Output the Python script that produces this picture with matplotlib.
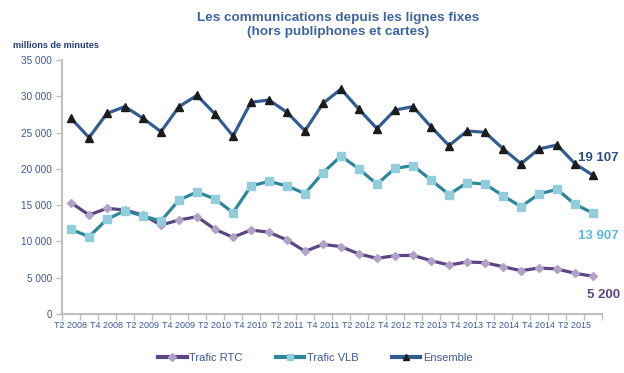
import matplotlib
matplotlib.use("Agg")
import matplotlib.pyplot as plt
from matplotlib.ticker import FixedLocator, FuncFormatter
import numpy as np

quarters = []
for y in range(2008, 2016):
    for q in (1, 2, 3, 4):
        quarters.append(f"T{q} {y}")
quarters = quarters[1:1 + 30]  # T2 2008 .. T3 2015

rtc = [15340, 13640, 14560, 14330, 13640, 12260, 12950, 13410, 11670, 10570,
       11580, 11260, 10200, 8630, 9600, 9280, 8270, 7670, 8040, 8090,
       7350, 6750, 7170, 7070, 6520, 5970, 6340, 6200, 5610, 5200]
vlb = [11670, 10650, 13050, 14240, 13500, 12820, 15710, 16810, 15850, 13960,
       17640, 18280, 17640, 16590, 19470, 21770, 19980, 17890, 20080, 20440,
       18470, 16460, 18090, 17910, 16300, 14790, 16540, 17180, 15110, 13907]
ens = [26970, 24300, 27650, 28570, 26970, 25120, 28570, 30130, 27560, 24530,
       29170, 29490, 27790, 25250, 29030, 31000, 28200, 25540, 28110, 28570,
       25810, 23200, 25220, 25040, 22780, 20710, 22740, 23290, 20710, 19107]
end_labels = ["5 200", "13 907", "19 107"]

fams = ["Liberation Sans", "DejaVu Sans"]
plt.rcParams["font.family"] = fams

fig = plt.figure(figsize=(6.24, 3.73), dpi=100)
ax = fig.add_axes([62 / 624, 59 / 373, 540 / 624, 254 / 373])

x = np.arange(len(quarters))
c_rtc_line, c_rtc_mk = "#5b4683", "#b3a2c7"
c_vlb_line, c_vlb_mk = "#2e8799", "#92cddc"
c_ens_line, c_ens_mk = "#335d92", "#1c1c1c"

l1, = ax.plot(x, rtc, color=c_rtc_line, lw=2.3, marker="D", ms=4.2,
              mfc=c_rtc_mk, mec=c_rtc_mk, label="Trafic RTC", zorder=3)
l2, = ax.plot(x, vlb, color=c_vlb_line, lw=2.3, marker="s", ms=5.5,
              mfc=c_vlb_mk, mec=c_vlb_mk, label="Trafic VLB", zorder=3)
l3, = ax.plot(x, ens, color=c_ens_line, lw=2.3, marker="^", ms=5.5,
              mfc=c_ens_mk, mec=c_ens_mk, label="Ensemble", zorder=3)

ax.set_xlim(-0.5, len(quarters) - 0.5)
ax.set_ylim(0, 35000)

tick_col = "#3c5896"
ax.set_yticks(np.arange(0, 35001, 5000))
ax.yaxis.set_major_formatter(FuncFormatter(lambda v, p: f"{int(v):,}".replace(",", " ")))
ax.set_xticks(x[::2])
ax.set_xticklabels(quarters[::2])
ax.xaxis.set_minor_locator(FixedLocator(np.arange(-0.5, len(quarters), 1.0)))
ax.tick_params(axis="x", which="major", length=0, pad=5, labelsize=6.5, colors=tick_col)
ax.tick_params(axis="x", which="minor", length=4, width=1, color="#bfbfbf", direction="out")
ax.tick_params(axis="y", which="major", length=4, width=1, color="#bfbfbf",
               labelsize=7.2, labelcolor=tick_col, pad=3)

for s in ("top", "right"):
    ax.spines[s].set_visible(False)
for s in ("left", "bottom"):
    ax.spines[s].set_color("#bfbfbf")
    ax.spines[s].set_linewidth(1.5)

bold_f = ["Liberation Sans", "DejaVu Sans"]
ax.annotate(end_labels[2], xy=(x[-1], ens[-1]), xytext=(-11, 10), textcoords="offset points",
            fontsize=9.5, fontweight="bold", color="#2b5088", family=bold_f)
ax.annotate(end_labels[1], xy=(x[-1], vlb[-1]), xytext=(-11, -19), textcoords="offset points",
            fontsize=9.5, fontweight="bold", color="#5db8dc", family=bold_f)
ax.annotate(end_labels[0], xy=(x[-1], rtc[-1]), xytext=(-4, -16), textcoords="offset points",
            fontsize=9.5, fontweight="bold", color="#5b4683", family=bold_f)

fig.text(338 / 624, 1 - 25 / 373, "Les communications depuis les lignes fixes\n(hors publiphones et cartes)",
         ha="center", va="center", fontsize=9.7, fontweight="bold", color="#3d65a0",
         family=bold_f, linespacing=1.2)
fig.text(13 / 624, 1 - 45 / 373, "millions de minutes", ha="left", va="center",
         fontsize=6.6, fontweight="bold", color="#23407a")

leg = fig.legend(handles=[l1, l2, l3], loc="center", bbox_to_anchor=(315 / 624, 1 - 358 / 373),
                 ncol=3, frameon=False, fontsize=8, handlelength=2.6, columnspacing=3.0,
                 handletextpad=0.2, markerscale=0.9)
for t in leg.get_texts():
    t.set_color("#3c5896")
for h in leg.legend_handles:
    h.set_linewidth(3)

fig.savefig("out.png", dpi=100)
